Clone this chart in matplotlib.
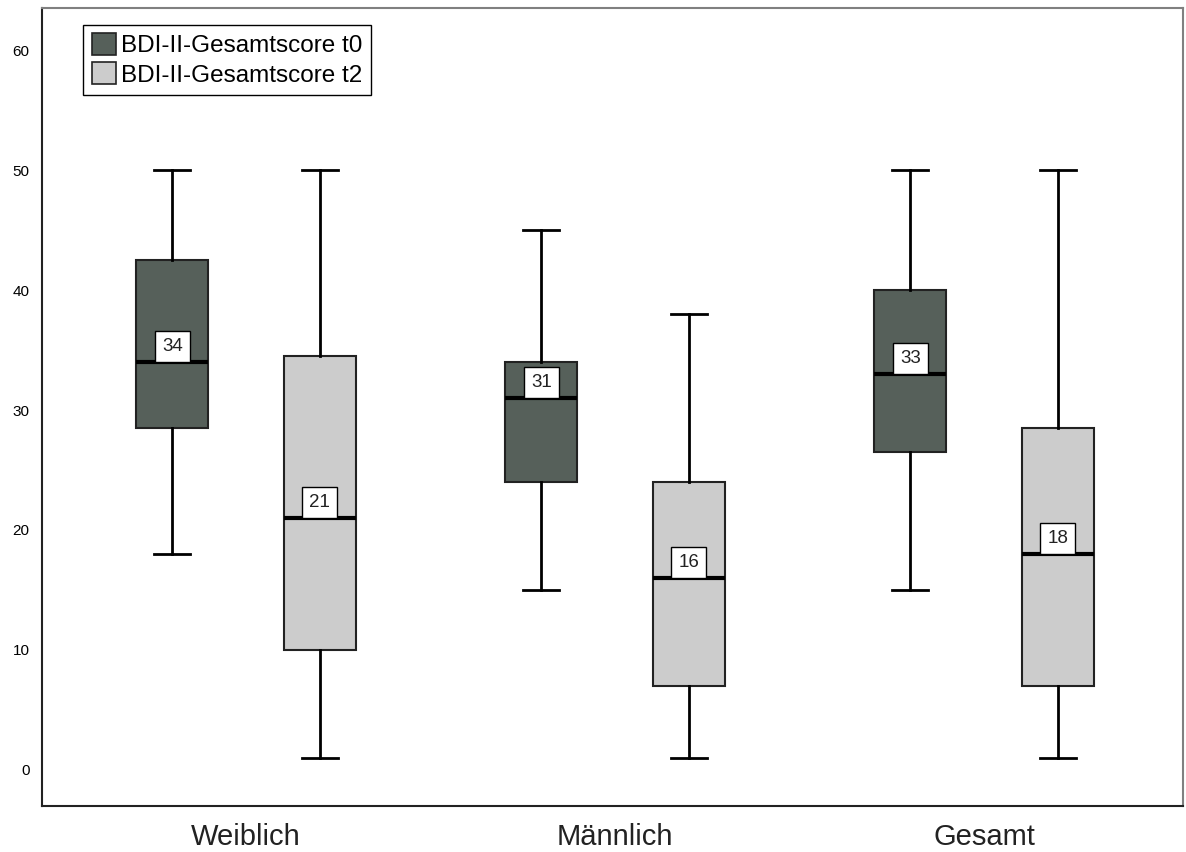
import numpy as np
import matplotlib
matplotlib.use("Agg")
import matplotlib.pyplot as plt
from matplotlib.patches import Patch

plt.rcParams['font.family'] = ['Liberation Sans', 'DejaVu Sans']

groups = ['Weiblich', 'Männlich', 'Gesamt']
series = ['BDI-II-Gesamtscore t0', 'BDI-II-Gesamtscore t2']

# t0
t0_med = [34, 31, 33]
t0_q1 = [28.5, 24, 26.5]
t0_q3 = [42.5, 34, 40]
t0_lo = [18, 15, 15]
t0_hi = [50, 45, 50]
# t2
t2_med = [21, 16, 18]
t2_q1 = [10, 7, 7]
t2_q3 = [34.5, 24, 28.5]
t2_lo = [1, 1, 1]
t2_hi = [50, 38, 50]

colors = ['#56605a', '#cccccc']


def make_stats(med, q1, q3, lo, hi):
    return [dict(med=m, q1=a, q3=b, whislo=l, whishi=h, fliers=[])
            for m, a, b, l, h in zip(med, q1, q3, lo, hi)]


fig = plt.figure(figsize=(11.86, 8.52), dpi=100)
ax = fig.add_axes([0.0354, 0.054, 0.962, 0.9366])

x = np.arange(len(groups))
offs = [-0.2, 0.2]
all_stats = [make_stats(t0_med, t0_q1, t0_q3, t0_lo, t0_hi),
             make_stats(t2_med, t2_q1, t2_q3, t2_lo, t2_hi)]

for k, stats in enumerate(all_stats):
    pos = x + offs[k]
    ax.bxp(stats, positions=pos, widths=0.195, patch_artist=True,
           showfliers=False, manage_ticks=False,
           boxprops=dict(facecolor=colors[k], edgecolor='#222222', linewidth=1.5),
           medianprops=dict(color='black', linewidth=3),
           whiskerprops=dict(color='black', linewidth=2),
           capprops=dict(color='black', linewidth=2),
           capwidths=0.098)
    for p, s in zip(pos, stats):
        ax.text(p, s['med'] + 0.6, '%d' % s['med'], ha='center', va='bottom',
                fontsize=13.5, color='#222222',
                bbox=dict(boxstyle='square,pad=0.38', facecolor='white',
                          edgecolor='black', linewidth=1))

ax.set_xlim(-0.553, 2.539)
ax.set_ylim(-3, 63.5)
ax.set_yticks([0, 10, 20, 30, 40, 50, 60])
ax.tick_params(axis='y', length=0, labelsize=11, pad=9)
ax.set_xticks(x)
ax.set_xticklabels(groups, fontsize=21, color='#222222')
ax.tick_params(axis='x', length=0, pad=12)

for side in ['left', 'bottom']:
    ax.spines[side].set_color('#222222')
    ax.spines[side].set_linewidth(1.5)
for side in ['top', 'right']:
    ax.spines[side].set_color('#808080')
    ax.spines[side].set_linewidth(1.5)

handles = [Patch(facecolor=colors[i], edgecolor='#222222', linewidth=1.2, label=series[i])
           for i in range(2)]
leg = ax.legend(handles=handles, loc='upper left', bbox_to_anchor=(0.036, 0.979),
                borderaxespad=0, fontsize=17.5, fancybox=False, framealpha=1,
                edgecolor='black', handlelength=1.0, handleheight=1.0,
                handletextpad=0.2, labelspacing=0.2, borderpad=0.35)
leg.get_frame().set_linewidth(1)

fig.savefig('out.png', dpi=100)
